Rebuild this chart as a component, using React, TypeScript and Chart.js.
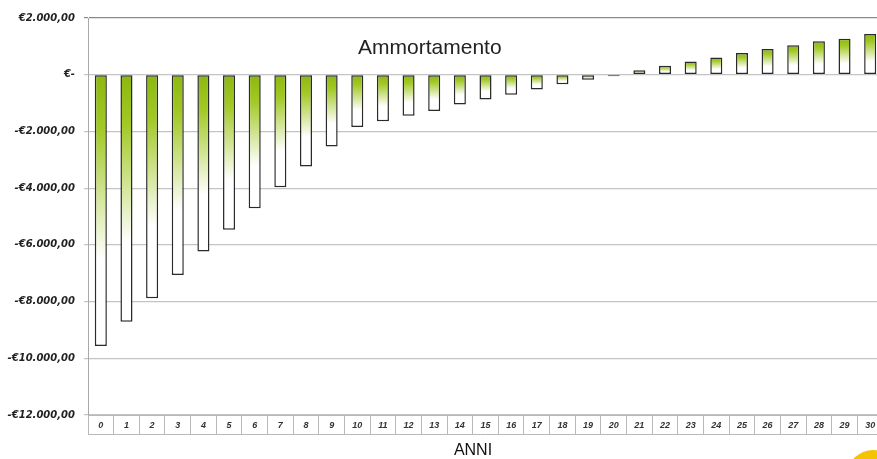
import React, { useEffect, useRef } from "react";
import { Chart, registerables } from "chart.js";

Chart.register(...registerables);

const categories = ["0","1","2","3","4","5","6","7","8","9","10","11","12","13","14","15","16","17","18","19","20","21","22","23","24","25","26","27","28","29","30"];
const values = [-9570, -8710, -7880, -7060, -6230, -5470, -4710, -3970, -3240, -2530, -1840, -1640, -1450, -1280, -1050, -870, -710, -520, -335, -180, -55, 160, 318, 470, 610, 763, 908, 1036, 1177, 1272, 1438];
const yMin = -12000;
const yMax = 2000;
const yStep = 2000;
const chartTitle = "Ammortamento";
const xTitle = "ANNI";

function fmtEuro(v: number): string {
  if (v === 0) return "€-";
  const abs = Math.abs(v);
  const s = abs.toFixed(2).split(".");
  const int = s[0].replace(/\B(?=(\d{3})+(?!\d))/g, ".");
  return (v < 0 ? "-" : "") + "€" + int + "," + s[1];
}

const decorPlugin = {
  id: "decor",
  afterDraw(chart: any) {
    const { ctx, chartArea } = chart;
    const xs = chart.scales.x;
    ctx.save();
    ctx.strokeStyle = "#b8b8b8";
    ctx.lineWidth = 1;
    ctx.beginPath();
    ctx.moveTo(xs.left, xs.top + 19.5);
    ctx.lineTo(xs.right, xs.top + 19.5);
    ctx.stroke();
    ctx.fillStyle = "#222";
    ctx.font = '21px "Liberation Sans", Arial, sans-serif';
    ctx.textAlign = "center";
    ctx.textBaseline = "middle";
    ctx.fillText(chartTitle, chartArea.left + (chartArea.right - chartArea.left) * 0.43, chartArea.top + 30);
    ctx.fillStyle = "#111";
    ctx.font = '16px "Liberation Sans", Arial, sans-serif';
    ctx.fillText(xTitle, 473, xs.top + 36);
    ctx.restore();
  },
};

export default function App() {
  const ref = useRef<HTMLCanvasElement | null>(null);
  useEffect(() => {
    if (!ref.current) return;
    const chart = new Chart(ref.current, {
      type: "bar",
      data: {
        labels: categories,
        datasets: [
          {
            data: values,
            backgroundColor: (c: any) => {
              const ch = c.chart;
              if (!ch.chartArea || c.type !== "data") return "#a6cc2e";
              const y = ch.scales.y;
              const v = c.raw as number;
              const top = y.getPixelForValue(Math.max(v, 0));
              const bot = y.getPixelForValue(Math.min(v, 0));
              if (bot - top < 1) return "#a6cc2e";
              const g = ch.ctx.createLinearGradient(0, top, 0, bot);
              g.addColorStop(0, "#8cb80e");
              g.addColorStop(0.2, "#a2c926");
              g.addColorStop(0.68, "#ffffff");
              g.addColorStop(1, "#ffffff");
              return g;
            },
            borderColor: "#2a2a2a",
            borderWidth: 1.5,
            borderSkipped: false,
            categoryPercentage: 1,
            barPercentage: 0.47,
          },
        ],
      },
      options: {
        responsive: false,
        animation: false,
        layout: { padding: { top: 18, right: 1, left: 0, bottom: 0 } },
        plugins: { legend: { display: false }, title: { display: false }, tooltip: { enabled: false } },
        scales: {
          x: {
            grid: {
              display: true,
              drawOnChartArea: false,
              drawTicks: true,
              tickLength: 19,
              offset: true,
              color: "#b8b8b8",
            },
            border: { display: true, color: "#b8b8b8" },
            ticks: {
              autoSkip: false,
              maxRotation: 0,
              padding: -14,
              color: "#333",
              font: { family: '"Liberation Sans", Arial, sans-serif', size: 9, style: "italic", weight: "bold" },
            },
            afterFit: (s: any) => {
              s.height = 44;
            },
          },
          y: {
            min: yMin,
            max: yMax,
            ticks: {
              stepSize: yStep,
              padding: 9,
              color: "#222",
              font: { family: '"DejaVu Sans", sans-serif', size: 10, style: "italic", weight: "bold" },
              callback: (v: any) => fmtEuro(Number(v)),
            },
            grid: {
              color: (c: any) => (c.tick && c.tick.value === yMax ? "#8a8a8a" : "#c4c4c4"),
              lineWidth: 1.2,
              drawTicks: true,
              tickLength: 4,
            },
            border: { display: true, color: "#a8a8a8" },
            afterFit: (s: any) => {
              s.width = 88;
            },
          },
        },
      },
      plugins: [decorPlugin],
    });
    return () => chart.destroy();
  }, []);
  return (
    <div style={{ position: "fixed", left: 0, top: 0, width: 877, height: 459, overflow: "hidden", background: "#fff" }}>
      <canvas ref={ref} width={884} height={459} style={{ width: 884, height: 459, display: "block" }} />
      <div
        style={{
          position: "absolute",
          left: 847,
          top: 450,
          width: 52,
          height: 52,
          borderRadius: "50%",
          background: "#f5c400",
        }}
      />
    </div>
  );
}
